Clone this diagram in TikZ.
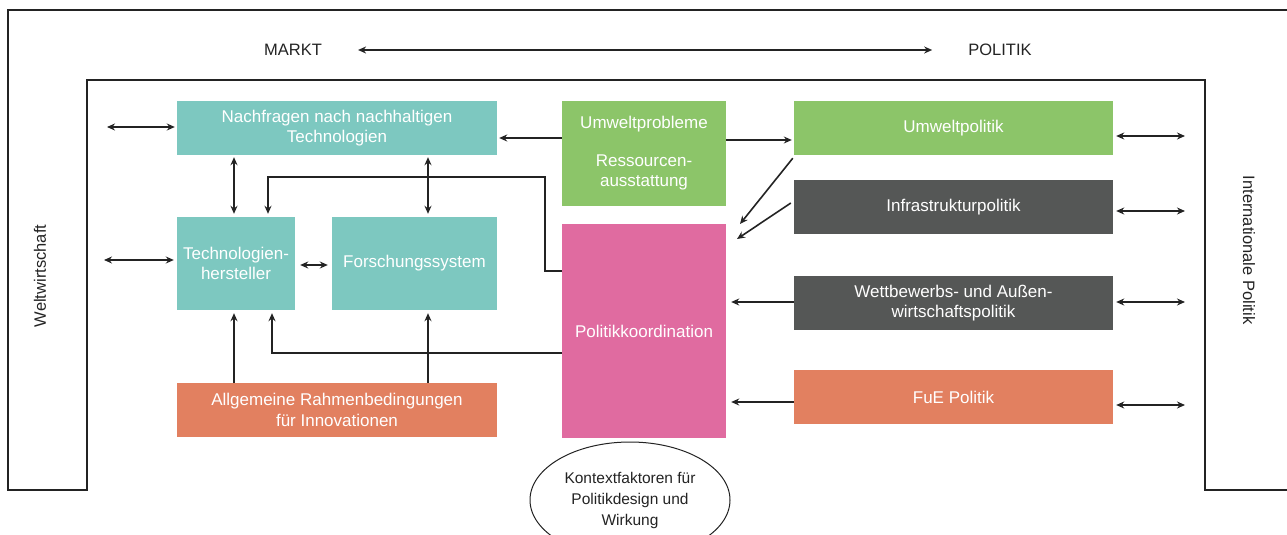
\documentclass[tikz,border=0pt]{standalone}
\usepackage{fontspec}
\setmainfont{Liberation Sans}
\usetikzlibrary{arrows.meta,shapes.geometric}
\definecolor{cteal}{RGB}{125,200,192}
\definecolor{cgreen}{RGB}{140,197,105}
\definecolor{cpink}{RGB}{224,107,160}
\definecolor{cgray}{RGB}{85,87,86}
\definecolor{corange}{RGB}{226,128,96}
\definecolor{cline}{RGB}{35,35,35}
\tikzset{
  box/.style={draw=none,inner sep=0pt,align=center,text=white,font=\fontsize{17}{20.5}\selectfont},
  lbl/.style={inner sep=0pt,text=cline,font=\fontsize{16.5}{20}\selectfont},
  con/.style={draw=cline,line width=1.6pt},
  arr/.style={con,-{Stealth[length=8pt,width=7pt]}},
  dbl/.style={con,{Stealth[length=8pt,width=7pt]}-{Stealth[length=8pt,width=7pt]}},
}
\begin{document}
\begin{tikzpicture}[x=1pt,y=-1pt]
\useasboundingbox (0,0) rectangle (1287,535);
% frame
\draw[con] (1287,10) -- (8,10) -- (8,490) -- (87,490) -- (87,80) -- (1205,80) -- (1205,490) -- (1287,490);
% outer labels
\node[lbl] (markt) at (293,50) {MARKT};
\node[lbl] (politik) at (1000,50) {POLITIK};
\draw[dbl,shorten <=36pt,shorten >=36pt] (markt) -- (politik);
\node[lbl,rotate=90] (welt) at (40,276) {Weltwirtschaft};
\node[lbl,rotate=-90] (intpol) at (1249,250) {Internationale Politik};
% boxes
\node[box,fill=cteal,minimum width=320pt,minimum height=54pt] (nach) at (337,128) {Nachfragen nach nachhaltigen\\Technologien};
\node[box,fill=cteal,minimum width=118pt,minimum height=93pt] (tech) at (236,263.5) {Technologien-\\hersteller};
\node[box,fill=cteal,minimum width=165pt,minimum height=93pt] (forsch) at (414.5,263.5) {Forschungssystem};
\node[box,fill=corange,minimum width=320pt,minimum height=54pt] (allg) at (337,410) {Allgemeine Rahmenbedingungen\\für Innovationen};
\node[box,fill=cgreen,minimum width=164pt,minimum height=105pt] (umwp) at (644,153.5) {Umweltprobleme\\[17pt]Ressourcen-\\ausstattung};
\node[box,fill=cpink,minimum width=164pt,minimum height=214pt] (pk) at (644,331) {Politikkoordination};
\node[box,fill=cgreen,minimum width=319pt,minimum height=54pt] (upol) at (953.5,128) {Umweltpolitik};
\node[box,fill=cgray,minimum width=319pt,minimum height=54pt] (infra) at (953.5,207) {Infrastrukturpolitik};
\node[box,fill=cgray,minimum width=319pt,minimum height=54pt] (wett) at (953.5,303) {Wettbewerbs- und Außen-\\wirtschaftspolitik};
\node[box,fill=corange,minimum width=319pt,minimum height=54pt] (fue) at (953.5,397) {FuE Politik};
\node[draw=cline,line width=1pt,ellipse,minimum width=200pt,minimum height=116pt,inner sep=0pt,align=center,text=cline,font=\fontsize{15.5}{21}\selectfont] (kontext) at (630,500) {Kontextfaktoren für\\Politikdesign und\\Wirkung};
% free ends
\coordinate (l1) at (107,127);
\coordinate (l2) at (104,260);
\coordinate (r1) at (1185,136);
\coordinate (r2) at (1185,211);
\coordinate (r3) at (1185,302);
\coordinate (r4) at (1185,405);
\coordinate (t1) at (740,224);
\coordinate (t2) at (737,239);
% connectors left
\draw[dbl] (l1) -- ([xshift=-2pt]nach.west |- l1);
\draw[dbl] (l2) -- ([xshift=-3pt]tech.west |- l2);
\draw[dbl,shorten <=2pt,shorten >=3pt] (nach.south -| 234,0) -- (tech.north -| 234,0);
\draw[dbl,shorten <=2pt,shorten >=3pt] (nach.south -| 428,0) -- (forsch.north -| 428,0);
\draw[dbl,shorten <=5pt,shorten >=4pt] (tech.east |- 0,265) -- (forsch.west |- 0,265);
\draw[arr,shorten >=3pt] (allg.north -| 234,0) -- (tech.south -| 234,0);
\draw[arr,shorten >=3pt] (allg.north -| 428,0) -- (forsch.south -| 428,0);
\draw[arr,shorten >=3pt] (pk.west |- 0,271) -| (545,177) -| (tech.north -| 268,0);
\draw[arr,shorten >=3pt] (pk.west |- 0,353) -| (tech.south -| 272,0);
\draw[arr,shorten >=2pt] (umwp.west |- 0,138) -- (nach.east |- 0,138);
\draw[arr,shorten >=2pt] (umwp.east |- 0,140) -- (upol.west |- 0,140);
% connectors right
\draw[arr] ([xshift=-1pt,yshift=-3pt]upol.south west) -- (t1);
\draw[arr] ([xshift=-3pt]infra.west |- 0,203) -- (t2);
\draw[arr,shorten >=5pt] (wett.west |- 0,302) -- (pk.east |- 0,302);
\draw[arr,shorten >=5pt] (fue.west |- 0,402) -- (pk.east |- 0,402);
\draw[dbl,shorten <=3pt] (upol.east |- r1) -- (r1);
\draw[dbl,shorten <=3pt] (infra.east |- r2) -- (r2);
\draw[dbl,shorten <=3pt] (wett.east |- r3) -- (r3);
\draw[dbl,shorten <=3pt] (fue.east |- r4) -- (r4);
\end{tikzpicture}
\end{document}
